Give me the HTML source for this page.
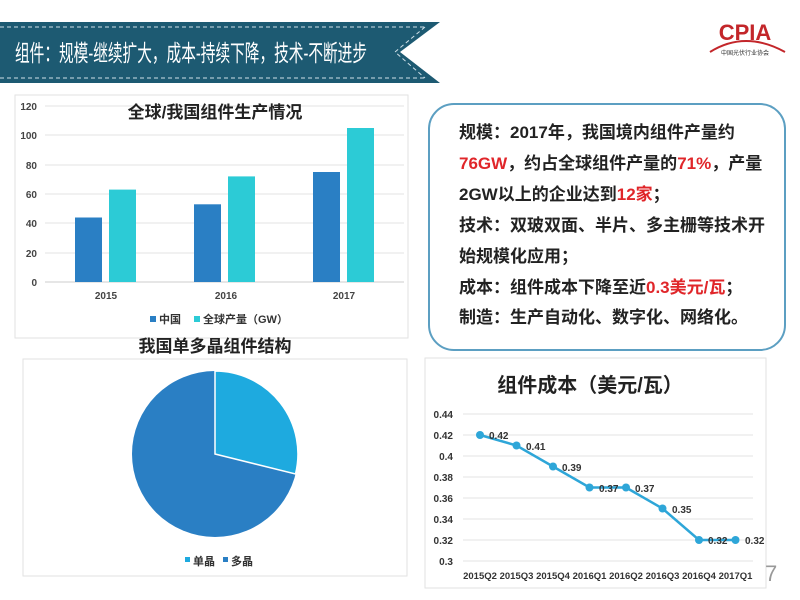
<!DOCTYPE html>
<html><head><meta charset="utf-8"><style>
body{margin:0;width:800px;height:600px;background:#fff;overflow:hidden;font-family:"Liberation Sans","Noto Sans CJK SC",sans-serif;}
svg{position:absolute;left:0;top:0}
.tb{position:absolute;left:428px;top:103px;width:358px;height:248px;border:2px solid #5c9fc2;border-radius:26px;box-sizing:border-box;}
.tl{position:absolute;left:459px;font-size:17px;font-weight:bold;color:#222;white-space:nowrap;line-height:20px}
.r{color:#e0262a}
</style></head><body>
<svg width="800" height="600" font-family="Liberation Sans, Noto Sans CJK SC, sans-serif">
<polygon points="0,22 440,22 400,52 440,83 0,83" fill="#1d5a72"/>
<line x1="0" y1="27" x2="425" y2="27" stroke="#cfe0e8" stroke-dasharray="4,3" stroke-width="1"/>
<line x1="0" y1="78" x2="425" y2="78" stroke="#cfe0e8" stroke-dasharray="4,3" stroke-width="1"/>
<polyline points="425,27 395,52 425,78" fill="none" stroke="#cfe0e8" stroke-dasharray="4,3"/>
<text x="15" y="61" fill="#fff" font-size="23" textLength="352" lengthAdjust="spacingAndGlyphs">组件：规模-继续扩大，成本-持续下降，技术-不断进步</text>
<text x="745" y="40" fill="#c3262a" font-size="22" font-weight="bold" text-anchor="middle">CPIA</text>
<path d="M710,52 Q745,30 785,52" fill="none" stroke="#c3262a" stroke-width="2"/>
<text x="745" y="55" font-size="6" text-anchor="middle" fill="#333">中国光伏行业协会</text>
<rect x="15" y="95" width="393" height="243" fill="#fff" stroke="#e2e2e2"/>
<g stroke="#e3e3e3">
<line x1="45" y1="106" x2="404" y2="106"/><line x1="45" y1="135" x2="404" y2="135"/><line x1="45" y1="165" x2="404" y2="165"/><line x1="45" y1="194" x2="404" y2="194"/><line x1="45" y1="223" x2="404" y2="223"/><line x1="45" y1="253" x2="404" y2="253"/><line x1="45" y1="282" x2="404" y2="282" stroke="#ccc"/>
</g>
<g font-size="10" font-weight="bold" fill="#444" text-anchor="end">
<text x="37" y="110">120</text><text x="37" y="139">100</text><text x="37" y="169">80</text><text x="37" y="198">60</text><text x="37" y="227">40</text><text x="37" y="257">20</text><text x="37" y="286">0</text>
</g>
<text x="215" y="118" font-size="17" font-weight="bold" text-anchor="middle" fill="#222">全球/我国组件生产情况</text>
<g fill="#2a7fc4"><rect x="75" y="217.5" width="27" height="64.5"/><rect x="194" y="204.3" width="27" height="77.7"/><rect x="313" y="172" width="27" height="110"/></g>
<g fill="#2ccbd6"><rect x="109" y="189.6" width="27" height="92.4"/><rect x="228" y="176.4" width="27" height="105.6"/><rect x="347" y="128" width="27" height="154"/></g>
<g font-size="10" font-weight="bold" fill="#444" text-anchor="middle"><text x="106" y="299">2015</text><text x="226" y="299">2016</text><text x="344" y="299">2017</text></g>
<rect x="150" y="316" width="6" height="6" fill="#2a7fc4"/><text x="159" y="323" font-size="11" font-weight="bold" fill="#333">中国</text>
<rect x="194" y="316" width="6" height="6" fill="#2ccbd6"/><text x="203" y="323" font-size="11" font-weight="bold" fill="#333">全球产量（GW）</text>
<text x="215" y="352" font-size="17" font-weight="bold" text-anchor="middle" fill="#222">我国单多晶组件结构</text>
<rect x="23" y="359" width="384" height="217" fill="#fff" stroke="#e2e2e2"/>
<circle cx="215" cy="454" r="83" fill="#2a7fc4"/>
<path d="M215,454 L215,371 A83,83 0 0 1 295.5,474 Z" fill="#1eaadf" stroke="#fff" stroke-width="1.5"/>
<rect x="185" y="557" width="5" height="5" fill="#1eaadf"/><text x="193" y="565" font-size="11" font-weight="bold" fill="#333">单晶</text>
<rect x="223" y="557" width="5" height="5" fill="#2a7fc4"/><text x="231" y="565" font-size="11" font-weight="bold" fill="#333">多晶</text>
<rect x="425" y="358" width="341" height="230" fill="#fff" stroke="#e2e2e2"/>
<text x="590" y="392" font-size="20" font-weight="bold" text-anchor="middle" fill="#222">组件成本（美元/瓦）</text>
<g stroke="#e3e3e3">
<line x1="463" y1="414" x2="753" y2="414"/><line x1="463" y1="435" x2="753" y2="435"/><line x1="463" y1="456" x2="753" y2="456"/><line x1="463" y1="477" x2="753" y2="477"/><line x1="463" y1="498" x2="753" y2="498"/><line x1="463" y1="519" x2="753" y2="519"/><line x1="463" y1="540" x2="753" y2="540"/><line x1="463" y1="561" x2="753" y2="561"/>
</g>
<g font-size="10" font-weight="bold" fill="#333" text-anchor="end">
<text x="453" y="418">0.44</text><text x="453" y="439">0.42</text><text x="453" y="460">0.4</text><text x="453" y="481">0.38</text><text x="453" y="502">0.36</text><text x="453" y="523">0.34</text><text x="453" y="544">0.32</text><text x="453" y="565">0.3</text>
</g>
<polyline points="480,435 516.5,445.5 553,466.5 589.5,487.5 626,487.5 662.5,508.5 699,540 735.5,540" fill="none" stroke="#2ea6d8" stroke-width="2.5"/>
<g fill="#2ea6d8"><circle cx="480" cy="435" r="4"/><circle cx="516.5" cy="445.5" r="4"/><circle cx="553" cy="466.5" r="4"/><circle cx="589.5" cy="487.5" r="4"/><circle cx="626" cy="487.5" r="4"/><circle cx="662.5" cy="508.5" r="4"/><circle cx="699" cy="540" r="4"/><circle cx="735.5" cy="540" r="4"/></g>
<g font-size="10" font-weight="bold" fill="#333">
<text x="489" y="439">0.42</text><text x="526" y="450">0.41</text><text x="562" y="471">0.39</text><text x="599" y="492">0.37</text><text x="635" y="492">0.37</text><text x="672" y="513">0.35</text><text x="708" y="544">0.32</text><text x="745" y="544">0.32</text>
</g>
<g font-size="9.5" font-weight="bold" fill="#333" text-anchor="middle">
<text x="480" y="579">2015Q2</text><text x="516.5" y="579">2015Q3</text><text x="553" y="579">2015Q4</text><text x="589.5" y="579">2016Q1</text><text x="626" y="579">2016Q2</text><text x="662.5" y="579">2016Q3</text><text x="699" y="579">2016Q4</text><text x="735.5" y="579">2017Q1</text>
</g>
<text x="765" y="581" font-size="22" fill="#999">7</text>
</svg>
<div class="tb"></div>
<div class="tl" style="top:123px">规模：2017年，我国境内组件产量约</div>
<div class="tl" style="top:154px"><span class="r">76GW</span>，约占全球组件产量的<span class="r">71%</span>，产量</div>
<div class="tl" style="top:185px">2GW以上的企业达到<span class="r">12家</span>；</div>
<div class="tl" style="top:216px">技术：双玻双面、半片、多主栅等技术开</div>
<div class="tl" style="top:247px">始规模化应用；</div>
<div class="tl" style="top:278px">成本：组件成本下降至近<span class="r">0.3美元/瓦</span>；</div>
<div class="tl" style="top:308px">制造：生产自动化、数字化、网络化。</div>
</body></html>
